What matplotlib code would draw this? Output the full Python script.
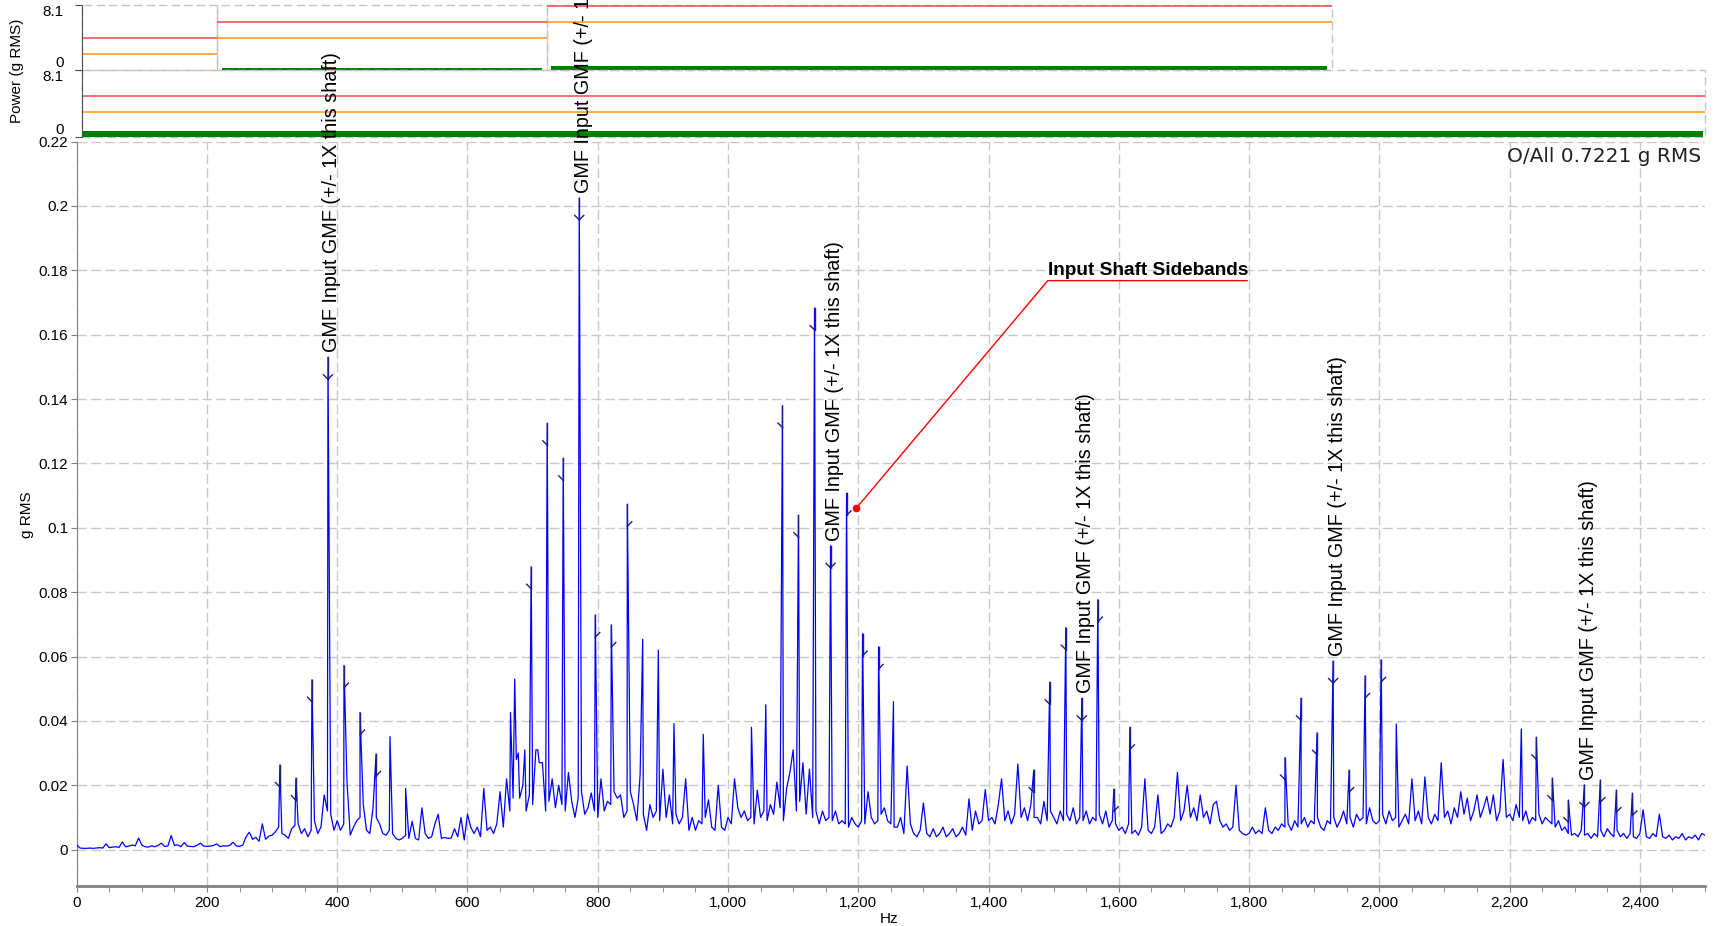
import numpy as np
import matplotlib.pyplot as plt
from matplotlib.ticker import FuncFormatter, MultipleLocator

plt.rcParams["font.family"] = ["Liberation Sans", "DejaVu Sans"]

"""
Gearbox vibration spectrum with band alarm strips (GMF harmonics + 1X sidebands)
"""

# spectrum floor in mg, one value every 5 Hz, one row per 100 Hz
FLOOR_STEP = 5
FLOOR_MG = [
    [1.5, 0.5, 0.4, 0.4, 0.5, 0.4, 0.5, 0.6, 0.5, 1.8, 0.6, 0.8, 0.9, 0.7, 2.4, 0.9, 1.1, 1.4, 1.2, 3.6],
    [1.4, 0.9, 0.8, 1.2, 0.9, 1.3, 2.0, 1.0, 1.1, 4.4, 1.3, 1.5, 0.9, 2.2, 1.1, 1.0, 0.9, 1.4, 2.0, 1.1],
    [1.0, 1.1, 1.3, 1.8, 0.9, 1.2, 1.1, 1.3, 2.3, 1.2, 1.0, 1.4, 4.0, 5.4, 3.2, 3.8, 2.6, 8.0, 3.2, 4.2],
    [4.5, 5.5, 7.0, 5.0, 4.5, 3.5, 6.5, 7.5, 8.0, 5.0, 6.5, 4.0, 6.0, 9.0, 5.0, 7.0, 17.0, 12.0, 11.0, 6.0],
    [9.0, 6.0, 8.0, 21.0, 4.5, 7.0, 9.0, 10.0, 14.0, 6.0, 5.0, 13.0, 10.0, 8.0, 5.0, 4.5, 6.0, 5.0, 3.5, 3.0],
    [3.5, 4.5, 3.5, 8.8, 3.5, 3.0, 13.0, 5.0, 3.5, 4.0, 8.0, 11.0, 3.5, 3.8, 3.5, 3.6, 6.5, 4.0, 10.0, 3.0],
    [11.0, 7.0, 5.0, 7.0, 4.0, 19.0, 6.0, 7.0, 5.0, 8.0, 18.0, 7.0, 22.0, 12.0, 16.0, 28.0, 16.0, 20.0, 12.0, 17.0],
    [14.0, 31.0, 27.0, 27.0, 12.0, 15.0, 22.0, 13.0, 20.0, 14.0, 12.0, 24.0, 15.0, 10.0, 16.0, 18.0, 11.0, 13.0, 17.6, 12.0],
    [10.0, 22.0, 12.0, 15.0, 14.0, 18.0, 16.0, 17.0, 10.0, 12.0, 18.0, 14.0, 9.0, 23.0, 11.0, 6.0, 14.0, 10.0, 12.0, 9.0],
    [25.0, 10.0, 17.0, 8.0, 11.0, 8.0, 10.0, 22.0, 6.0, 10.0, 6.0, 9.0, 8.0, 10.0, 15.5, 7.0, 6.0, 20.0, 7.0, 6.0],
    [10.0, 8.0, 22.0, 13.0, 10.0, 12.0, 9.0, 10.0, 8.0, 18.5, 10.0, 12.0, 9.0, 14.0, 11.0, 21.0, 13.0, 9.0, 19.0, 24.0],
    [31.0, 12.0, 15.0, 27.0, 11.0, 25.0, 10.0, 12.0, 8.0, 12.0, 9.0, 10.0, 9.0, 12.0, 8.0, 9.0, 8.0, 7.0, 10.0, 8.0],
    [7.0, 9.0, 8.0, 18.0, 10.0, 8.0, 9.0, 11.0, 13.0, 9.0, 8.0, 7.0, 7.0, 10.0, 5.0, 26.0, 8.0, 5.0, 4.0, 6.0],
    [14.5, 5.0, 4.0, 6.5, 4.0, 5.0, 7.0, 4.0, 5.0, 6.5, 4.0, 5.0, 7.0, 4.5, 15.8, 6.0, 12.0, 8.0, 9.0, 18.7],
    [9.0, 10.0, 8.0, 14.0, 22.0, 9.0, 12.0, 8.0, 11.0, 26.6, 10.0, 13.0, 9.0, 14.0, 10.0, 10.0, 8.0, 15.0, 9.0, 12.0],
    [10.0, 8.0, 12.0, 9.0, 11.0, 9.0, 13.0, 8.0, 10.0, 9.0, 12.0, 8.0, 10.0, 9.0, 11.0, 8.0, 12.0, 7.0, 9.0, 8.0],
    [6.0, 7.0, 5.0, 8.0, 5.0, 6.0, 4.5, 7.0, 22.0, 6.0, 5.0, 7.0, 17.0, 5.0, 6.0, 8.0, 7.0, 10.0, 24.0, 9.0],
    [12.0, 20.0, 10.0, 13.0, 9.0, 17.0, 10.0, 12.0, 8.0, 14.0, 15.0, 9.0, 7.0, 8.0, 6.0, 7.0, 20.0, 6.0, 5.0, 4.5],
    [5.0, 7.0, 5.0, 6.0, 5.0, 13.0, 6.0, 5.0, 7.0, 6.0, 8.0, 7.0, 8.0, 6.0, 9.0, 7.0, 8.0, 10.0, 7.0, 9.0],
    [8.0, 10.0, 7.0, 6.0, 9.0, 8.0, 10.0, 7.0, 9.0, 12.0, 8.0, 10.0, 7.0, 11.0, 9.0, 10.0, 8.0, 13.0, 9.0, 8.0],
    [9.0, 11.0, 8.0, 12.0, 9.0, 10.0, 7.0, 9.0, 11.0, 8.0, 22.0, 9.0, 12.0, 8.0, 22.6, 10.0, 8.0, 11.0, 9.0, 27.0],
    [10.0, 12.0, 8.0, 13.0, 10.0, 18.0, 11.0, 16.0, 9.0, 12.0, 17.0, 10.0, 13.0, 16.5, 11.0, 17.0, 9.0, 12.0, 28.0, 10.0],
    [11.0, 9.0, 14.0, 10.0, 9.0, 12.0, 8.0, 10.0, 9.0, 11.0, 8.0, 10.0, 9.0, 8.0, 7.0, 9.0, 6.0, 7.0, 5.0, 4.5],
    [5.0, 4.0, 6.0, 4.5, 5.0, 3.5, 5.0, 4.0, 6.0, 4.0, 6.5, 5.0, 4.0, 6.0, 4.0, 5.0, 3.5, 5.0, 4.0, 3.5],
    [5.0, 12.4, 4.0, 3.5, 5.0, 4.0, 11.0, 4.0, 3.5, 4.5, 3.0, 4.0, 3.5, 5.0, 3.0, 4.0, 3.5, 4.5, 3.0, 5.0],
    [4.5],
]

# discrete spikes (Hz, g RMS)
PEAK_HZ = [312.0, 336.6, 361.2, 385.8, 410.4, 435.0, 459.6, 481, 505,
           666, 672.5, 678, 688, 697.8, 708, 722.4, 747.0, 771.6, 796.2, 820.8, 845.4,
           869, 893, 917, 962, 1036, 1058,
           1083.6, 1108.2, 1132.8, 1157.4, 1182.0, 1206.6, 1231.2, 1254,
           1469.4, 1494.0, 1518.6, 1543.2, 1567.8, 1592.4, 1617.0,
           1855.2, 1879.8, 1904.4, 1929.0, 1953.6, 1978.2, 2002.8, 2026, 2218,
           2241.0, 2265.6, 2290.2, 2314.8, 2339.4, 2364.0, 2388.6]
PEAK_G = [0.0263, 0.0222, 0.0528, 0.1530, 0.0572, 0.0426, 0.0297, 0.0351, 0.019,
          0.0426, 0.053, 0.030, 0.031, 0.0879, 0.031, 0.1325, 0.1216, 0.2025, 0.0729, 0.0698, 0.1073,
          0.0654, 0.062, 0.0392, 0.0358, 0.038, 0.045,
          0.138, 0.1039, 0.1683, 0.0944, 0.1107, 0.0671, 0.063, 0.046,
          0.0247, 0.052, 0.069, 0.047, 0.0777, 0.0188, 0.038,
          0.0286, 0.047, 0.0363, 0.0586, 0.0247, 0.054, 0.059, 0.039, 0.0375,
          0.0349, 0.0222, 0.0154, 0.0201, 0.0216, 0.0185, 0.0175]

GMF_HZ = [385.8, 771.6, 1157.4, 1543.2, 1929.0, 2314.8]
LOWER_SB_HZ = [312.0, 336.6, 361.2, 697.8, 722.4, 747.0, 1083.6, 1108.2, 1132.8,
               1469.4, 1494.0, 1518.6, 1855.2, 1879.8, 1904.4, 2241.0, 2265.6, 2290.2]
UPPER_SB_HZ = [410.4, 435.0, 459.6, 796.2, 820.8, 845.4, 1182.0, 1206.6, 1231.2,
               1567.8, 1592.4, 1617.0, 1953.6, 1978.2, 2002.8, 2339.4, 2364.0, 2388.6]
GMF_LABEL = "GMF Input GMF (+/- 1X this shaft)"
OVERALL = 0.7221

# alarm band strips: row 0 = sub bands, row 1 = overall
BAND_ROW = [0, 0, 0, 1]
BAND_LO = [7.4, 216, 722, 7.4]
BAND_HI = [216, 722, 1927, 2500]
BAND_ALERT = [2.0, 4.0, 6.0, 3.0]
BAND_ALARM = [4.0, 6.0, 8.0, 5.0]
BAND_VALUE = [0.0, 0.29, 0.5, 0.7221]
STRIP_MAX = 8.1

W, H = 1719, 926
GRID = dict(color="#c8c8c8", linestyle=(0, (7, 3)), linewidth=1.0)

floor_g = np.concatenate([np.array(r) for r in FLOOR_MG]) / 1000.0
floor_hz = np.arange(len(floor_g)) * FLOOR_STEP
hz = np.concatenate([floor_hz, PEAK_HZ])
amp = np.concatenate([floor_g, PEAK_G])
order = np.argsort(hz, kind="stable")
hz, amp = hz[order], amp[order]
peak_lookup = dict(zip(PEAK_HZ, PEAK_G))

fig = plt.figure(figsize=(W / 100, H / 100), dpi=100)

# ---- band strips
strip_axes = []
for row, (top, bot) in enumerate([(4.7, 70.0), (70.0, 136.7)]):
    sa = fig.add_axes([81.5 / W, 1 - bot / H, (1705 - 81.5) / W, (bot - top) / H])
    sa.set_xlim(7.4, 2500)
    sa.set_ylim(0, STRIP_MAX)
    sa.patch.set_alpha(0)
    for s in ["top", "right", "bottom"]:
        sa.spines[s].set_visible(False)
    sa.spines["left"].set_color("#505050")
    sa.set_xticks([])
    sa.set_yticks([0, STRIP_MAX])
    sa.set_yticklabels(["0", "8.1"])
    sa.tick_params(axis="y", length=5, pad=8, labelsize=11, color="#505050")
    labs = sa.get_yticklabels()
    labs[0].set_va("bottom")
    labs[1].set_va("top")
    strip_axes.append(sa)

for row, lo, hi, alert, alarm, val in zip(BAND_ROW, BAND_LO, BAND_HI,
                                          BAND_ALERT, BAND_ALARM, BAND_VALUE):
    sa = strip_axes[row]
    sa.add_patch(plt.Rectangle((lo, 0), hi - lo, STRIP_MAX, fill=False,
                               edgecolor="#c4c4c4", linestyle=(0, (6, 3)),
                               linewidth=1.0, clip_on=False))
    sa.hlines(alarm, lo, hi, color="#f04848", linewidth=1.3, alpha=0.85)
    sa.hlines(alert, lo, hi, color="#ff9a2a", linewidth=1.3, alpha=0.9)
    inset = 7 if row == 0 else 3
    if val > 0:
        sa.bar(lo + inset, val, width=hi - lo - 2 * inset, align="edge",
               color="#008000", linewidth=0)

# ---- main spectrum
ax = fig.add_axes([76.7 / W, 1 - 886 / H, (1705 - 76.7) / W, (886 - 141.6) / H])
x_lo, x_hi = 0, 2500
y_lo, y_hi = -0.0113, 0.22
ax.set_xlim(x_lo, x_hi)
ax.set_ylim(y_lo, y_hi)
ax.patch.set_alpha(0)
dx = (x_hi - x_lo) / (1705 - 76.7)     # Hz per pixel
dy = (y_hi - y_lo) / (886 - 141.6)     # g per pixel

ax.plot(hz, amp, color="#0000ff", linewidth=0.9, zorder=3)

ax.spines["top"].set_visible(False)
ax.spines["right"].set_visible(False)
ax.spines["bottom"].set_color("#808080")
ax.spines["bottom"].set_linewidth(2.0)
ax.spines["left"].set_color("#808080")
ax.xaxis.set_major_locator(MultipleLocator(200))
ax.xaxis.set_minor_locator(MultipleLocator(50))
ax.set_yticks(np.arange(0, 0.2201, 0.02))
ax.xaxis.set_major_formatter(FuncFormatter(lambda v, p: f"{int(round(v)):,}"))
ax.yaxis.set_major_formatter(FuncFormatter(lambda v, p: f"{round(v, 3):g}"))
ax.tick_params(axis="both", which="both", labelsize=11, color="#808080")
ax.tick_params(axis="x", which="both", length=4, pad=3)
ax.tick_params(axis="y", length=4, pad=2)
ax.grid(True, which="major", **GRID)
ax.set_axisbelow(True)

# harmonic / sideband markers
navy = "#1c1c8c"
mark_len = 22 * dy
arm_x, arm_y = 4.5 * dx, 4.5 * dy
for f in GMF_HZ + LOWER_SB_HZ + UPPER_SB_HZ:
    top = peak_lookup[f]
    mid = top - mark_len
    ax.plot([f, f], [mid, top], color=navy, linewidth=1.0, zorder=4)
    if f in GMF_HZ or f in LOWER_SB_HZ:
        ax.plot([f - arm_x, f], [mid + arm_y, mid], color=navy, linewidth=1.0, zorder=4)
    if f in GMF_HZ or f in UPPER_SB_HZ:
        ax.plot([f, f + arm_x], [mid, mid + arm_y], color=navy, linewidth=1.0, zorder=4)

for f in GMF_HZ:
    ax.text(f + 4 * dx, peak_lookup[f] + 5 * dy, GMF_LABEL, rotation=90,
            ha="center", va="bottom", fontsize=14.2, color="black",
            clip_on=False, zorder=6)

# sideband callout
dot_hz, dot_g = 1196.5, 0.106
line_hz0, line_hz1, line_g = 1491, 1797, 0.1768
ax.plot([dot_hz, line_hz0, line_hz1], [dot_g, line_g, line_g], color="red",
        linewidth=1.0, zorder=5)
ax.plot([dot_hz], [dot_g], "o", color="red", markersize=4.5, zorder=5)
ax.text(line_hz0, line_g + 2 * dy, "Input Shaft Sidebands", ha="left", va="bottom",
        fontsize=13.7, fontweight="bold", color="black", zorder=6)

fig.text(1700.7 / W, 1 - 156.7 / H, f"O/All {OVERALL} g RMS", ha="right", va="center",
         fontsize=14.5, family="DejaVu Sans", color="#222222")
fig.text(889 / W, 1 - 918.7 / H, "Hz", ha="center", va="center", fontsize=11)
fig.text(27 / W, 1 - 515 / H, "g RMS", ha="center", va="center", rotation=90, fontsize=11)
fig.text(17.5 / W, 1 - 71 / H, "Power (g RMS)", ha="center", va="center", rotation=90,
         fontsize=11)

fig.savefig("out.png", dpi=100)
plt.close()
